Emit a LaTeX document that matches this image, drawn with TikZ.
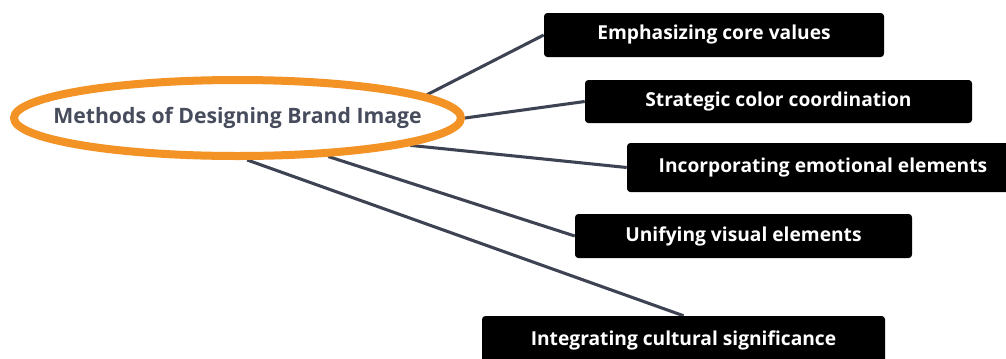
\documentclass[tikz,border=0pt]{standalone}
\usepackage{fontspec}
\setmainfont{Open Sans}
\usetikzlibrary{shapes.geometric,backgrounds}
\definecolor{brandorange}{HTML}{F39325}
\definecolor{titlegray}{HTML}{474C5D}
\definecolor{linkgray}{HTML}{3E4354}
\tikzset{
  topic/.style={draw=brandorange, line width=6pt, fill=white, ellipse, inner sep=0pt,
    minimum width=335.25pt, minimum height=57pt},
  topictext/.style={text=titlegray, inner sep=0pt, font=\fontsize{15.9}{18}\selectfont\bfseries},
  itembox/.style={fill=black, rounded corners=2.5pt, text=white, inner sep=0pt,
    minimum height=33pt, font=\fontsize{14.4}{16}\selectfont\bfseries},
  link/.style={draw=linkgray, line width=2.3pt}
}
\begin{document}
\begin{tikzpicture}[x=0.75pt,y=-0.75pt]
\useasboundingbox (0,0) rectangle (1006,358);
\clip (0,0) rectangle (1006,358);
\node[topic, label={[topictext]center:Methods of Designing Brand Image}] (c) at (237.5,118) {};
\node[itembox, minimum width=255pt] (b1) at (714,35) {Emphasizing core values};
\node[itembox, minimum width=290.25pt, minimum height=32.25pt] (b2) at (778.5,101.5) {Strategic color coordination};
\node[itembox, minimum width=294pt, minimum height=36.75pt] (b3) at (823,167.5) {Incorporating emotional elements};
\node[itembox, minimum width=252.75pt] (b4) at (743.5,236) {Unifying visual elements};
\node[itembox, minimum width=302.25pt, minimum height=36pt] (b5) at (683.5,340) {Integrating cultural significance};
\begin{scope}[on background layer]
\draw[link] (c.7) -- (b1.west);
\draw[link] (c.0) -- (b2.west);
\draw[link] (c.-9.9) -- (b3.west);
\draw[link] (c.-23.6) -- (b4.west);
\draw[link] (c.-77.4) -- (b5.north);
\end{scope}
\end{tikzpicture}
\end{document}
